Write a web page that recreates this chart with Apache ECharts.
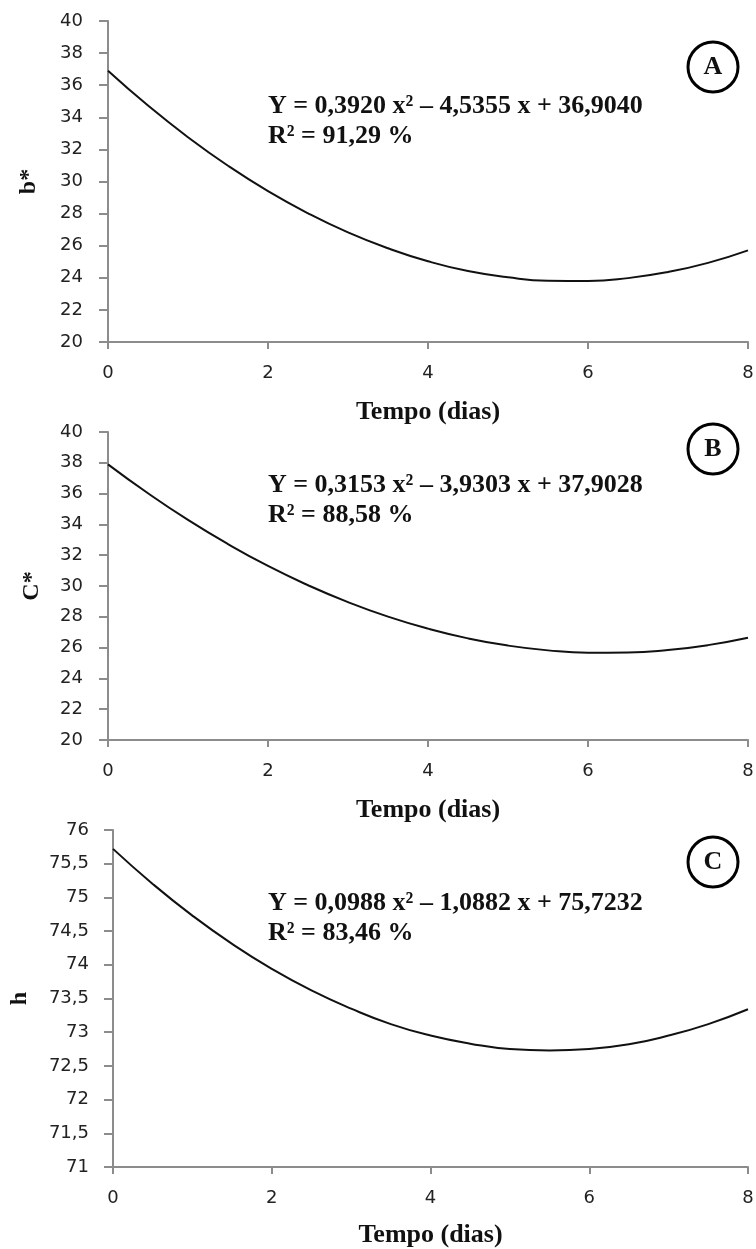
<!DOCTYPE html>
<html>
<head>
<meta charset="utf-8">
<script src="https://cdn.jsdelivr.net/npm/echarts@6/dist/echarts.min.js"></script>
<style>
  html, body { margin: 0; padding: 0; background: #fff; }
  #chart { width: 756px; height: 1249px; }
</style>
</head>
<body>
<div id="chart"></div>
<script>
// dias de armazenamento (leitura a cada meio dia)
var days = [0, 0.5, 1, 1.5, 2, 2.5, 3, 3.5, 4, 4.5, 5, 5.5, 6, 6.5, 7, 7.5, 8];
// valores
var bStar = [36.90, 34.73, 32.76, 30.98, 29.40, 28.02, 26.83, 25.84, 25.03,
             24.42, 24.03, 23.82, 23.80, 23.98, 24.36, 24.93, 25.71];
var cStar = [37.90, 36.02, 34.29, 32.72, 31.30, 30.05, 28.95, 28.01, 27.23,
             26.60, 26.13, 25.82, 25.67, 25.68, 25.84, 26.16, 26.64];
var hue = [75.72, 75.20, 74.73, 74.31, 73.94, 73.62, 73.35, 73.12, 72.95,
           72.83, 72.75, 72.73, 72.75, 72.82, 72.95, 73.12, 73.34];

var yNames = ['b*', 'C*', 'h'];
var panelLetters = ['A', 'B', 'C'];
var equations = [
  'Y = 0,3920 x² – 4,5355 x + 36,9040',
  'Y = 0,3153 x² – 3,9303 x + 37,9028',
  'Y = 0,0988 x² – 1,0882 x + 75,7232'
];
var r2Texts = ['R² = 91,29 %', 'R² = 88,58 %', 'R² = 83,46 %'];
var xTitle = 'Tempo (dias)';

var chartDom = document.getElementById('chart');
var myChart = echarts.init(chartDom);

var axisGray = '#8c8c8c';
var labelFont = { color: '#222', fontFamily: 'DejaVu Sans', fontSize: 18 };
var titleFont = { color: '#111', fontFamily: 'Liberation Serif', fontWeight: 'bold', fontSize: 26 };
var yNameFont = { color: '#111', fontFamily: 'Liberation Serif', fontWeight: 'bold', fontSize: 24 };

function pair(a, b) {
  return a.map(function (v, i) { return [v, b[i]]; });
}

var grids = [
  { left: 108, right: 8, top: 21, height: 321, outerBoundsMode: 'none', containLabel: false },
  { left: 108, right: 8, top: 432, height: 308, outerBoundsMode: 'none', containLabel: false },
  { left: 113, right: 8, top: 830, height: 337, outerBoundsMode: 'none', containLabel: false }
];

var xGaps = [57, 57, 55];
var xAxes = grids.map(function (g, i) {
  return {
    gridIndex: i,
    type: 'value',
    min: 0, max: 8, interval: 2,
    name: xTitle,
    nameLocation: 'middle',
    nameGap: xGaps[i],
    nameMoveOverlap: false,
    nameTextStyle: titleFont,
    axisLine: { show: true, onZero: false, lineStyle: { color: axisGray, width: 2 } },
    axisTick: { show: true, length: 7, lineStyle: { color: axisGray, width: 2 } },
    axisLabel: Object.assign({ margin: 22 }, labelFont),
    splitLine: { show: false }
  };
});

var yRanges = [[20, 40, 2], [20, 40, 2], [71, 76, 0.5]];
var yGaps = [67, 64, 81];
var yAxes = grids.map(function (g, i) {
  return {
    gridIndex: i,
    type: 'value',
    min: yRanges[i][0], max: yRanges[i][1], interval: yRanges[i][2],
    name: yNames[i],
    nameLocation: 'middle',
    nameGap: yGaps[i],
    nameRotate: 90,
    nameMoveOverlap: false,
    nameTextStyle: yNameFont,
    axisLine: { show: true, lineStyle: { color: axisGray, width: 2 } },
    axisTick: { show: true, length: 9, lineStyle: { color: axisGray, width: 2 } },
    axisLabel: Object.assign({
      margin: i === 2 ? 24 : 25,
      formatter: function (v) { return String(v).replace('.', ','); }
    }, labelFont),
    splitLine: { show: false }
  };
});

var seriesData = [bStar, cStar, hue];
var series = seriesData.map(function (vals, i) {
  return {
    type: 'line',
    xAxisIndex: i,
    yAxisIndex: i,
    data: pair(days, vals),
    smooth: true,
    showSymbol: false,
    symbol: 'none',
    lineStyle: { color: '#111', width: 2 },
    silent: true
  };
});

// equacoes e letras dos paineis
var eqTops = [108, 487, 905];
var circleCenters = [67, 449, 862];
var graphics = [];
for (var i = 0; i < 3; i++) {
  graphics.push({
    type: 'text', left: 268, top: eqTops[i] - 15,
    style: { text: equations[i], fill: '#111', font: 'bold 26px "Liberation Serif"' }
  });
  graphics.push({
    type: 'text', left: 268, top: eqTops[i] + 15,
    style: { text: r2Texts[i], fill: '#111', font: 'bold 26px "Liberation Serif"' }
  });
  graphics.push({
    type: 'circle',
    shape: { cx: 713, cy: circleCenters[i], r: 25 },
    style: { fill: '#fff', stroke: '#000', lineWidth: 3 }
  });
  graphics.push({
    type: 'text', x: 713, y: circleCenters[i],
    style: {
      text: panelLetters[i], fill: '#111', font: 'bold 26px "Liberation Serif"',
      align: 'center', verticalAlign: 'middle'
    }
  });
}

var option = {
  backgroundColor: '#fff',
  animation: false,
  grid: grids,
  xAxis: xAxes,
  yAxis: yAxes,
  series: series,
  graphic: graphics
};
option && myChart.setOption(option);
</script>
</body>
</html>
